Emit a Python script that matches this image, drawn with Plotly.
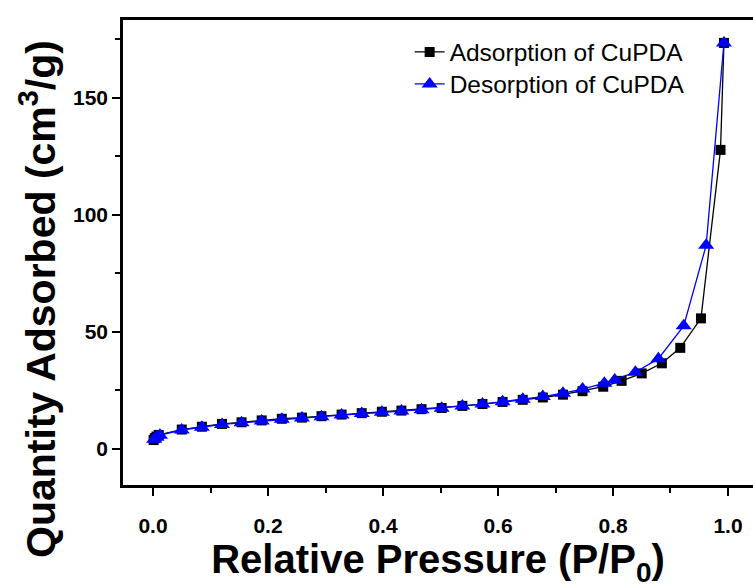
import plotly.graph_objects as go

# Adsorption branch (black squares)
ads_x = [0.001, 0.003, 0.006, 0.010, 0.050, 0.085, 0.120, 0.154, 0.189, 0.224, 0.259, 0.293,
         0.328, 0.363, 0.398, 0.432, 0.467, 0.502, 0.538, 0.573, 0.608, 0.643, 0.678,
         0.713, 0.747, 0.783, 0.815, 0.850, 0.885, 0.917, 0.953, 0.987, 0.993]
ads_y = [3.8, 4.6, 5.3, 6.0, 8.3, 9.5, 10.7, 11.4, 12.2, 12.9, 13.4, 14.0,
         14.7, 15.3, 15.9, 16.4, 17.0, 17.5, 18.4, 19.2, 20.1, 21.0, 22.0,
         23.2, 24.7, 26.6, 29.1, 32.3, 36.6, 43.2, 55.8, 127.8, 173.5]

# Desorption branch (blue triangles)
des_x = [0.993, 0.962, 0.923, 0.879, 0.839, 0.803, 0.785, 0.747, 0.713, 0.678, 0.643,
         0.608, 0.573, 0.538, 0.502, 0.467, 0.432, 0.398, 0.363, 0.328, 0.293, 0.259,
         0.224, 0.189, 0.154, 0.120, 0.085, 0.050, 0.012, 0.006, 0.002]
des_y = [173.5, 87.0, 52.6, 38.6, 32.8, 29.5, 28.1, 25.6, 23.8, 22.4, 21.2,
         20.2, 19.2, 18.4, 17.4, 16.8, 16.2, 15.7, 15.1, 14.5, 13.8, 13.2,
         12.7, 12.0, 11.2, 10.5, 9.3, 8.1, 5.9, 5.0, 4.2]

x_ticks = [0.0, 0.2, 0.4, 0.6, 0.8, 1.0]
x_tick_labels = ["0.0", "0.2", "0.4", "0.6", "0.8", "1.0"]
y_ticks = [0, 50, 100, 150]
y_tick_labels = ["0", "50", "100", "150"]

FONT = "Liberation Sans, Arial, sans-serif"

fig = go.Figure()
fig.add_trace(go.Scatter(
    x=ads_x, y=ads_y, mode="lines+markers", name="Adsorption of CuPDA",
    line=dict(color="black", width=1.3),
    marker=dict(symbol="square", size=10, color="black"),
    legend="legend",
))
fig.add_trace(go.Scatter(
    x=des_x, y=des_y, mode="lines+markers", name="Desorption of CuPDA",
    line=dict(color="#0000ff", width=1.3),
    marker=dict(symbol="triangle-up", size=14, color="#0000ff"),
    legend="legend2",
))

tick_font = dict(family=FONT, size=21, color="black", weight="bold")
leg_font = dict(family=FONT, size=24.5, color="black")

fig.update_layout(
    width=753, height=588,
    margin=dict(l=123, r=0, t=20, b=103),
    paper_bgcolor="white", plot_bgcolor="white",
    showlegend=True,
    legend=dict(
        x=0.455, y=1 - (52 - 20) / 465, xanchor="left", yanchor="middle",
        font=leg_font, bgcolor="rgba(0,0,0,0)", itemsizing="trace",
    ),
    legend2=dict(
        x=0.455, y=1 - (84 - 20) / 465, xanchor="left", yanchor="middle",
        font=leg_font, bgcolor="rgba(0,0,0,0)", itemsizing="trace",
    ),
    annotations=[dict(
        text="<b>Quantity Adsorbed (cm<sup>3</sup>/g)</b>",
        xref="paper", yref="paper",
        x=(38 - 123) / 630, y=1 - (299 - 20) / 465,
        xanchor="center", yanchor="middle", textangle=-90, showarrow=False,
        font=dict(family=FONT, size=41, color="black"),
    )],
)
fig.update_xaxes(
    range=[-0.0522, 1.0435],
    tickvals=x_ticks, ticktext=x_tick_labels,
    ticks="outside", ticklen=8, tickwidth=2.2, tickcolor="black",
    ticklabelstandoff=12,
    minor=dict(dtick=0.1, ticks="outside", ticklen=5, tickwidth=2, tickcolor="black"),
    showline=True, linewidth=2.5, linecolor="black", mirror=True,
    showgrid=False, zeroline=False,
    tickfont=tick_font,
    title=dict(text="<b>Relative Pressure (P/P<sub>0</sub>)</b>",
               font=dict(family=FONT, size=40, color="black"), standoff=10),
)
fig.update_yaxes(
    range=[-15.4, 183.3],
    tickvals=y_ticks, ticktext=y_tick_labels,
    ticks="outside", ticklen=8, tickwidth=2.2, tickcolor="black",
    minor=dict(dtick=25, ticks="outside", ticklen=5, tickwidth=2, tickcolor="black"),
    showline=True, linewidth=2.5, linecolor="black", mirror=False,
    showgrid=False, zeroline=False,
    tickfont=tick_font,
)

fig.write_html("out.html")
